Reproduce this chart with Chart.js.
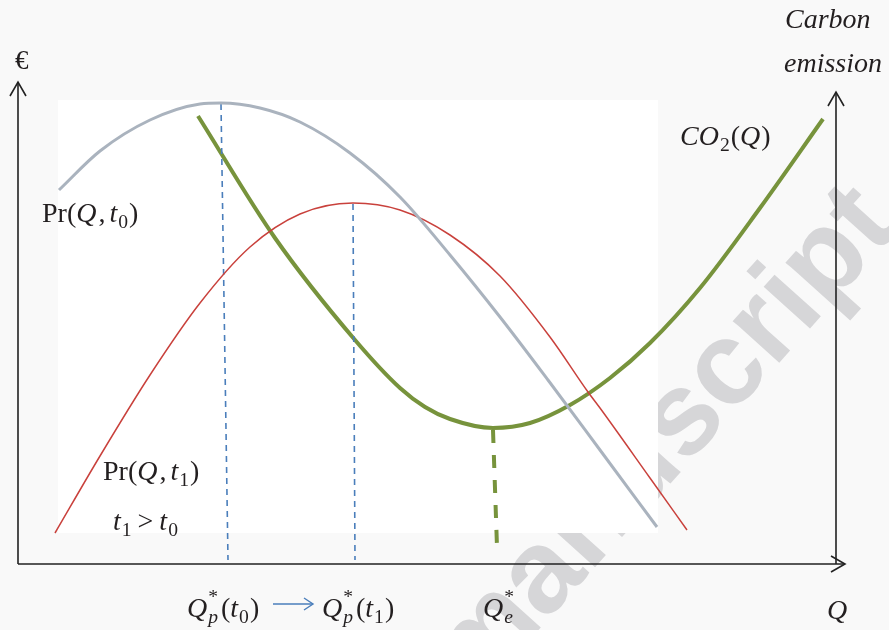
<!DOCTYPE html>
<html>
<head>
<meta charset="utf-8">
<script src="https://cdn.jsdelivr.net/npm/chart.js@4"></script>
<style>
  body { margin: 0; background: #f9f9f9; }
  #wrap { width: 889px; height: 630px; }
</style>
</head>
<body>
<div id="wrap"><canvas id="chart"></canvas></div>
<script>
// curves (x = Q, y = value), units are arbitrary
const prT0 = [[41,374],[82,413],[132,444],[182,460],[203,461],[242,456],[282,442],[332,411],[382,367],[432,309],[482,247],[530,184],[582,114],[639,37]];
const prT1 = [[37,31],[82,108],[132,189],[182,261],[232,317],[282,350],[335,361],[382,354],[432,329],[482,288],[532,227],[570,172],[582,156],[632,86],[669,34]];
const co2 = [[180,448],[257,326],[337,224],[382,176],[407,157],[432,145],[475,136],[512,141],[552,159],[592,186],[632,221],[682,276],[742,356],[805,445]];
const optT0 = [[203,460],[210,4]];
const optT1 = [[335,360],[337,4]];
const optE = [[475,134],[479,17]];

const toPts = arr => arr.map(p => ({ x: p[0], y: p[1] }));

const SERIF = '"Liberation Serif", "DejaVu Serif", serif';

function rich(ctx, x, y, parts, size) {
  let cx = x;
  parts.forEach(p => {
    const fs = p.pos ? size * 0.7 : size;
    ctx.font = (p.it ? 'italic ' : '') + fs + 'px ' + SERIF;
    let dy = 0;
    if (p.pos === 'sub') dy = size * 0.22;
    if (p.pos === 'sup') dy = -size * 0.5;
    ctx.fillText(p.t, cx, y + dy);
    if (!p.stay) cx += ctx.measureText(p.t).width + (p.gap || 0);
  });
  return cx;
}

function arrowHead(ctx, x, y, dir, len, half) {
  ctx.beginPath();
  if (dir === 'up') {
    ctx.moveTo(x - half, y + len); ctx.lineTo(x, y); ctx.lineTo(x + half, y + len);
  } else {
    ctx.moveTo(x - len, y - half); ctx.lineTo(x, y); ctx.lineTo(x - len, y + half);
  }
  ctx.stroke();
}

const backdrop = {
  id: 'backdrop',
  beforeDraw(chart) {
    const ctx = chart.ctx;
    ctx.save();
    ctx.fillStyle = '#f9f9f9';
    ctx.fillRect(0, 0, chart.width, chart.height);
    // watermark
    ctx.translate(664, 442);
    ctx.rotate(-48 * Math.PI / 180);
    ctx.fillStyle = '#d6d6d8';
    ctx.font = 'bold 118px "Liberation Sans", Arial, sans-serif';
    ctx.textAlign = 'center';
    ctx.textBaseline = 'middle';
    ctx.fillText('manuscript', 0, 0);
    ctx.restore();
    // white box of the pasted plot
    ctx.save();
    ctx.fillStyle = '#ffffff';
    ctx.fillRect(58, 100, 600, 433);
    ctx.restore();
  },
  afterDraw(chart) {
    const ctx = chart.ctx;
    const xs = chart.scales.x, ys = chart.scales.y;
    const x0 = xs.getPixelForValue(0), y0 = ys.getPixelForValue(0);
    const xEnd = xs.getPixelForValue(827), yTop = ys.getPixelForValue(482);
    const xR = xs.getPixelForValue(818), yTopR = ys.getPixelForValue(472);
    ctx.save();
    ctx.strokeStyle = '#222';
    ctx.lineWidth = 1.6;
    ctx.beginPath();
    ctx.moveTo(x0, y0); ctx.lineTo(x0, yTop);
    ctx.moveTo(x0, y0); ctx.lineTo(xEnd, y0);
    ctx.moveTo(xR, y0); ctx.lineTo(xR, yTopR);
    ctx.stroke();
    arrowHead(ctx, x0, yTop, 'up', 14, 8);
    arrowHead(ctx, xR, yTopR, 'up', 14, 8);
    arrowHead(ctx, xEnd, y0, 'right', 14, 8);

    ctx.fillStyle = '#231f20';
    ctx.textBaseline = 'alphabetic';
    const fs = 28;
    rich(ctx, 15, 69, [{ t: '€' }], 27);
    rich(ctx, 785, 28, [{ t: 'Carbon', it: 1 }], fs);
    rich(ctx, 784, 72, [{ t: 'emission', it: 1 }], fs);
    rich(ctx, 680, 145, [{ t: 'CO', it: 1, gap: 1 }, { t: '2', pos: 'sub', gap: 1 }, { t: '(' }, { t: 'Q', it: 1, gap: 1 }, { t: ')' }], fs);
    rich(ctx, 42, 222, [{ t: 'Pr(' }, { t: 'Q', it: 1, gap: 2 }, { t: ',', gap: 4 }, { t: 't', it: 1, gap: 1 }, { t: '0', pos: 'sub', gap: 1 }, { t: ')' }], fs);
    rich(ctx, 103, 480, [{ t: 'Pr(' }, { t: 'Q', it: 1, gap: 2 }, { t: ',', gap: 4 }, { t: 't', it: 1, gap: 1 }, { t: '1', pos: 'sub', gap: 1 }, { t: ')' }], fs);
    rich(ctx, 113, 530, [{ t: 't', it: 1, gap: 1 }, { t: '1', pos: 'sub', gap: 6 }, { t: '>', gap: 6 }, { t: 't', it: 1, gap: 1 }, { t: '0', pos: 'sub' }], fs);

    const qp = sub => [{ t: 'Q', it: 1, gap: 1 }, { t: '*', pos: 'sup', stay: 1 }, { t: 'p', it: 1, pos: 'sub', gap: 3 }, { t: '(' }, { t: 't', it: 1, gap: 1 }, { t: sub, pos: 'sub', gap: 1 }, { t: ')' }];
    rich(ctx, 187, 617, qp('0'), fs);
    rich(ctx, 322, 617, qp('1'), fs);
    rich(ctx, 483, 617, [{ t: 'Q', it: 1, gap: 1 }, { t: '*', pos: 'sup', stay: 1 }, { t: 'e', it: 1, pos: 'sub' }], fs);
    rich(ctx, 827, 619, [{ t: 'Q', it: 1 }], fs);

    // blue arrow between the optima
    ctx.strokeStyle = '#4a7ebb';
    ctx.lineWidth = 1.4;
    ctx.beginPath();
    ctx.moveTo(273, 604); ctx.lineTo(313, 604);
    ctx.stroke();
    arrowHead(ctx, 313, 604, 'right', 9, 6);
    ctx.restore();
  }
};

new Chart(document.getElementById('chart'), {
  type: 'scatter',
  data: {
    datasets: [
      {
        label: 'Pr(Q,t0)',
        data: toPts(prT0),
        showLine: true,
        borderColor: '#aab3be',
        borderWidth: 3,
        pointRadius: 0,
        cubicInterpolationMode: 'monotone'
      },
      {
        label: 'Pr(Q,t1)',
        data: toPts(prT1),
        showLine: true,
        borderColor: '#c9413c',
        borderWidth: 1.5,
        pointRadius: 0,
        cubicInterpolationMode: 'monotone'
      },
      {
        label: 'Qp*(t0)',
        data: toPts(optT0),
        showLine: true,
        borderColor: '#4a7ebb',
        borderWidth: 1.6,
        borderDash: [6, 5],
        pointRadius: 0
      },
      {
        label: 'Qp*(t1)',
        data: toPts(optT1),
        showLine: true,
        borderColor: '#4a7ebb',
        borderWidth: 1.6,
        borderDash: [6, 5],
        pointRadius: 0
      },
      {
        label: 'CO2(Q)',
        data: toPts(co2),
        showLine: true,
        borderColor: '#77933c',
        borderWidth: 4,
        pointRadius: 0,
        cubicInterpolationMode: 'monotone'
      },
      {
        label: 'Qe*',
        data: toPts(optE),
        showLine: true,
        borderColor: '#77933c',
        borderWidth: 4,
        borderDash: [13, 12],
        pointRadius: 0
      }
    ]
  },
  options: {
    responsive: true,
    maintainAspectRatio: false,
    animation: false,
    layout: { padding: { left: 18, right: 44, top: 82, bottom: 66 } },
    scales: {
      x: { type: 'linear', min: 0, max: 827, display: false },
      y: { type: 'linear', min: 0, max: 482, display: false }
    },
    plugins: {
      legend: { display: false },
      tooltip: { enabled: false }
    },
    clip: false
  },
  plugins: [backdrop]
});
</script>
</body>
</html>
